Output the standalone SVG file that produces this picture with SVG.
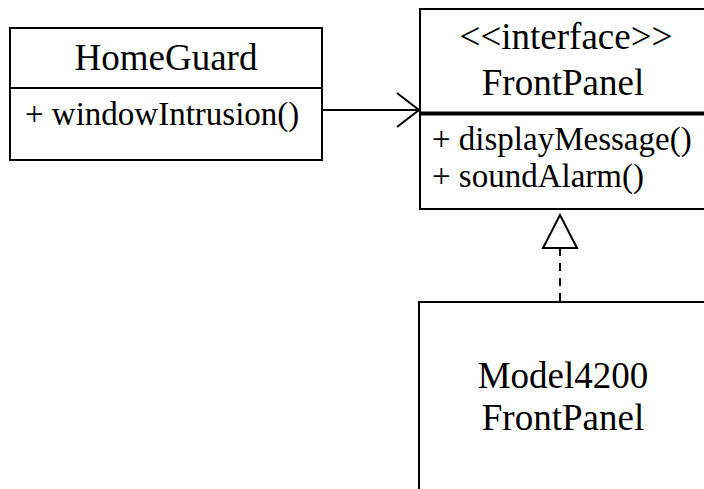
<svg xmlns="http://www.w3.org/2000/svg" width="704" height="489" viewBox="0 0 704 489">
<style>
.box{fill:#fff;stroke:#000;stroke-width:2}
.t{font-family:"Liberation Serif","Times New Roman",Times,serif;font-size:37px;fill:#000}
.m{font-family:"Liberation Serif","Times New Roman",Times,serif;font-size:33px;fill:#000}
.c{text-anchor:middle}
.ln{fill:none;stroke:#000;stroke-width:2}
</style>
<rect width="704" height="489" fill="#fff"/>
<g id="connectors">
<line class="ln" x1="322" y1="110" x2="419" y2="110"/>
<polyline class="ln" points="397,93 419,110 397,127"/>
<line class="ln" x1="560" y1="248" x2="560" y2="302" stroke-dasharray="8,7"/>
<polygon points="560,215 543,248 577,248" fill="#fff" stroke="#000" stroke-width="2"/>
</g>
<g id="HomeGuard">
<rect class="box" x="10" y="28" width="312" height="132"/>
<line class="ln" x1="10" y1="88" x2="322" y2="88"/>
<text class="t c" x="166" y="70">HomeGuard</text>
<text class="m" x="25" y="125">+ windowIntrusion()</text>
</g>
<g id="FrontPanel">
<rect class="box" x="420" y="9" width="300" height="200"/>
<line x1="420" y1="113.5" x2="720" y2="113.5" stroke="#000" stroke-width="4"/>
<text class="t c" x="566" y="49">&lt;&lt;interface&gt;&gt;</text>
<text class="t c" x="563" y="95">FrontPanel</text>
<text class="m" x="432" y="150">+ displayMessage()</text>
<text class="m" x="432" y="187">+ soundAlarm()</text>
</g>
<g id="Model4200FrontPanel">
<rect class="box" x="419" y="302" width="300" height="200"/>
<text class="t c" x="563" y="388">Model4200</text>
<text class="t c" x="563" y="430">FrontPanel</text>
</g>
</svg>
